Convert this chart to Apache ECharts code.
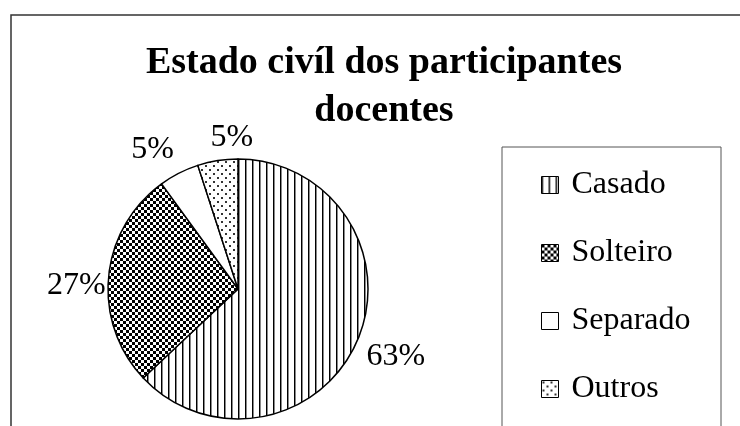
<!DOCTYPE html>
<html>
<head>
<meta charset="utf-8">
<script src="https://cdn.jsdelivr.net/npm/echarts@6/dist/echarts.min.js"></script>
<style>
  html, body { margin: 0; padding: 0; background: #fff; }
  #chart { width: 740px; height: 426px; }
</style>
</head>
<body>
<div id="chart"></div>
<script>
var categories = ['Casado', 'Solteiro', 'Separado', 'Outros'];
var values = [63, 27, 5, 5];

var serif = '"Liberation Serif", "DejaVu Serif", serif';

// pequenos ladrilhos em preto e branco para as hachuras
function tile(w, h, draw) {
    var c = document.createElement('canvas');
    c.width = w;
    c.height = h;
    var ctx = c.getContext('2d');
    ctx.fillStyle = '#fff';
    ctx.fillRect(0, 0, w, h);
    draw(ctx);
    return { image: c, repeat: 'repeat' };
}

var fills = [
    // listras verticais
    tile(7, 4, function (ctx) {
        ctx.fillStyle = '#000';
        ctx.fillRect(0, 0, 1, 4);
        ctx.fillStyle = '#888';
        ctx.fillRect(1, 0, 1, 4);
    }),
    // xadrez
    tile(6, 6, function (ctx) {
        ctx.fillStyle = '#000';
        ctx.fillRect(0, 0, 3, 3);
        ctx.fillRect(3, 3, 3, 3);
    }),
    // branco
    '#fff',
    // pontilhado
    tile(8, 8, function (ctx) {
        ctx.fillStyle = '#333';
        ctx.fillRect(1, 1, 2, 2);
        ctx.fillRect(5, 5, 2, 2);
    })
];

// ajuste fino dos rótulos (dx, dy)
var labelNudge = [[-5, 12], [7, 10], [30, -35], [42, -13]];

(function () {
    var myChart = echarts.init(document.getElementById('chart'));

    var data = categories.map(function (name, i) {
        return {
            name: name,
            value: values[i],
            itemStyle: { color: fills[i] }
        };
    });

    var option = {
        animation: false,
        title: {
            text: 'Estado civíl dos participantes\ndocentes',
            left: 384,
            top: 39,
            padding: 0,
            textAlign: 'center',
            textStyle: {
                fontFamily: serif,
                fontWeight: 'bold',
                fontSize: 38,
                lineHeight: 48,
                color: '#000'
            }
        },
        graphic: [
            {
                type: 'rect',
                shape: { x: 11, y: 15, width: 800, height: 500 },
                style: { fill: 'none', stroke: '#333', lineWidth: 1.5 },
                silent: true
            },
            {
                type: 'rect',
                shape: { x: 502, y: 147, width: 219, height: 320 },
                style: { fill: 'none', stroke: '#555', lineWidth: 1 },
                silent: true
            }
        ],
        legend: {
            orient: 'vertical',
            left: 541,
            top: 169,
            padding: 0,
            itemGap: 36,
            itemWidth: 17,
            itemHeight: 17,
            icon: 'rect',
            data: categories,
            itemStyle: { borderColor: '#000', borderWidth: 1 },
            textStyle: { fontFamily: serif, fontSize: 32, color: '#000', padding: [0, 0, 0, 8] }
        },
        series: [
            {
                name: 'Estado civíl',
                type: 'pie',
                center: [238, 289],
                radius: 130,
                startAngle: 90,
                clockwise: true,
                silent: true,
                itemStyle: { borderColor: '#000', borderWidth: 1.5 },
                label: {
                    show: true,
                    position: 'outside',
                    formatter: '{c}%',
                    fontFamily: serif,
                    fontSize: 32,
                    color: '#000'
                },
                labelLine: { show: false, length: 10, length2: 0 },
                labelLayout: function (params) {
                    var n = labelNudge[params.dataIndex];
                    return { dx: n[0], dy: n[1] };
                },
                data: data
            }
        ]
    };

    myChart.setOption(option);
})();
</script>
</body>
</html>
